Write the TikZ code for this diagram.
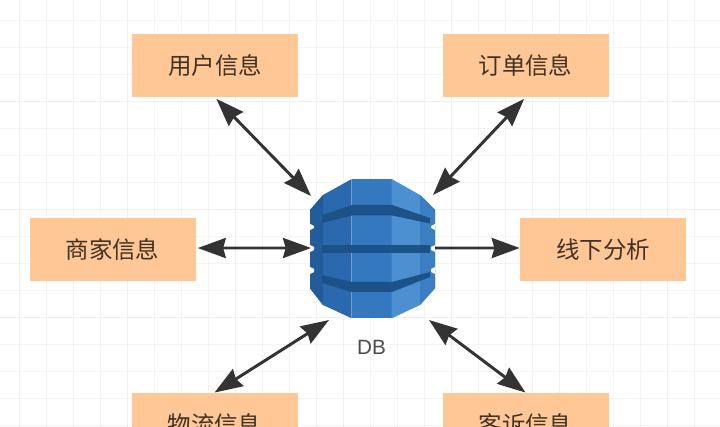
\documentclass[tikz,border=0pt]{standalone}
\usepackage{fontspec}
\setmainfont{Liberation Sans}
\newfontfamily\cjk{Noto Sans CJK SC}
\usetikzlibrary{arrows.meta}
\definecolor{gridminor}{HTML}{F4F4F6}
\definecolor{gridmajor}{HTML}{F0F0F2}
\definecolor{boxfill}{HTML}{FFC795}
\definecolor{arrowdark}{HTML}{333333}
\definecolor{dbleft}{HTML}{2B69AE}
\definecolor{dbleftedge}{HTML}{235C9A}
\definecolor{dbmid}{HTML}{3479C0}
\definecolor{dbright}{HTML}{4C90D2}
\definecolor{dbrightedge}{HTML}{3B7FC2}
\definecolor{dbband}{HTML}{1C5287}
\tikzset{
  infobox/.style={fill=boxfill,draw=none,minimum width=124.5pt,minimum height=47.5pt,inner sep=0pt,font=\cjk\fontsize{17.6}{20}\selectfont,text=black!75!boxfill},
  dblabel/.style={font=\fontsize{15.5}{18}\selectfont,text=black!70,inner sep=0pt},
  both/.style={draw=arrowdark,line width=2.2pt,{Stealth[length=21pt,width=15pt,inset=2pt]}-{Stealth[length=21pt,width=15pt,inset=2pt]}},
  single/.style={draw=arrowdark,line width=2.2pt,-{Stealth[length=21pt,width=15pt,inset=2pt]}},
}
\begin{document}
\begin{tikzpicture}[x=0.75pt,y=-0.75pt]
\useasboundingbox (0,0) rectangle (720,427);
\clip (0,0) rectangle (720,427);
\fill[white] (0,0) rectangle (720,427);
% grid
\foreach \i in {0,...,26} {
  \draw[gridminor,line width=1pt] ({19.5+27*\i},0) -- ({19.5+27*\i},427);
}
\foreach \j in {0,...,15} {
  \draw[gridminor,line width=1pt] (0,{20.5+27*\j}) -- (720,{20.5+27*\j});
}
\foreach \i in {0,...,6} {
  \draw[gridmajor,line width=1.3pt] ({19.5+108*\i},0) -- ({19.5+108*\i},427);
}
\foreach \j in {1,...,3} {
  \draw[gridmajor,line width=1.3pt] (0,{-6.5+108*\j}) -- (720,{-6.5+108*\j});
}
% boxes
\node[infobox] (user) at (215,65.5) {用户信息};
\node[infobox] (order) at (525.5,65.5) {订单信息};
\node[infobox] (merchant) at (112.5,249.5) {商家信息};
\node[infobox] (offline) at (603,249.5) {线下分析};
\node[infobox] (logistics) at (214.5,424.5) {物流信息};
\node[infobox] (complaint) at (525.5,424.5) {客诉信息};
% database icon
\path[fill=dbmid] (351.7,179) -- (391.7,179) -- (391.7,318.3) -- (351.7,318.3) -- cycle;
\path[fill=dbleft] (351.7,179) -- (323,195) -- (310,210) -- (310,288.3) -- (323,305) -- (351.7,318.3) -- cycle;
\path[fill=dbright] (391.7,179) -- (420,195) -- (435,210) -- (435,288.3) -- (420,305) -- (391.7,318.3) -- cycle;
\path[fill=dbleftedge] (310,210) -- (323,195) -- (323,305) -- (310,288.3) -- cycle;
\path[fill=dbrightedge] (435,210) -- (420,195) -- (420,305) -- (435,288.3) -- cycle;
\path[fill=dbband] (322,215) -- (352,205) -- (392,205) -- (430,218) -- (430,223.5) -- (392,215.5) -- (352,215.5) -- (322,223) -- cycle;
\path[fill=dbband] (322,245) -- (430,245) -- (430,253) -- (322,253) -- cycle;
\path[fill=dbband] (322,275) -- (352,282) -- (392,282) -- (430,272) -- (430,277) -- (392,292) -- (352,292) -- (322,283) -- cycle;
\fill[white] (310,224) -- (314,226) -- (314,228) -- (310,230) -- cycle;
\fill[white] (310,245) -- (314,247) -- (314,250) -- (310,252) -- cycle;
\fill[white] (310,267) -- (314,269) -- (314,272) -- (310,274) -- cycle;
\fill[white] (435,224) -- (431,226) -- (431,228) -- (435,230) -- cycle;
\fill[white] (435,245) -- (431,247) -- (431,250) -- (435,252) -- cycle;
\fill[white] (435,267) -- (431,269) -- (431,272) -- (435,274) -- cycle;
\node[inner sep=0pt,minimum width=93pt,minimum height=104pt] (db) at (372.5,248.5) {};
\node[dblabel] (dbtext) at (371.5,347.5) {DB};
% connector ends on the icon
\coordinate (dbA) at (311,196);
\coordinate (dbB) at (433,195);
\coordinate (dbC) at (311,248);
\coordinate (dbD) at (435,248);
\coordinate (dbE) at (329,320);
\coordinate (dbF) at (429,320);
% connectors
\draw[both,shorten <=1.5pt] (user.south) -- (dbA);
\draw[both,shorten <=1.5pt] (order.south) -- (dbB);
\draw[both,shorten <=1.5pt] ([yshift=1.1pt]merchant.east) -- (dbC);
\draw[single] (dbD) -- ([yshift=1.1pt]offline.west);
\draw[both] (logistics.north) -- (dbE);
\draw[both] (complaint.north) -- (dbF);
\end{tikzpicture}
\end{document}
